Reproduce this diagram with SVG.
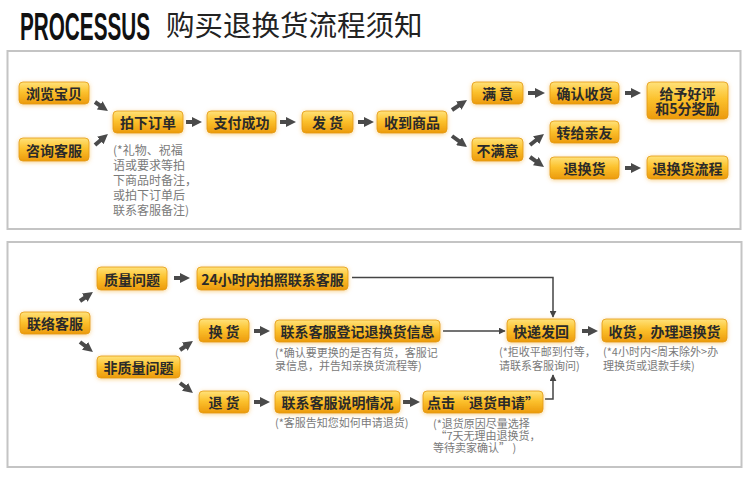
<svg xmlns="http://www.w3.org/2000/svg" width="750" height="499" viewBox="0 0 750 499">
<defs>
<linearGradient id="og" x1="0" y1="0" x2="0" y2="1">
<stop offset="0" stop-color="#ffe27a"/>
<stop offset="0.45" stop-color="#fcc22e"/>
<stop offset="1" stop-color="#ec9a0c"/>
</linearGradient>
<filter id="glow" x="-20%" y="-40%" width="140%" height="180%">
<feGaussianBlur in="SourceAlpha" stdDeviation="2" result="b"/>
<feFlood flood-color="#f3b340" flood-opacity="0.6"/>
<feComposite in2="b" operator="in"/>
<feOffset dy="1"/>
<feMerge><feMergeNode/><feMergeNode in="SourceGraphic"/></feMerge>
</filter>
<marker id="thick" viewBox="0 0 10 10" refX="3" refY="5" markerWidth="10" markerHeight="10" markerUnits="userSpaceOnUse" orient="auto">
<path d="M0,0 L10,5 L0,10 z" fill="#4a4a4a"/>
</marker>
<marker id="thin" viewBox="0 0 10 10" refX="9" refY="5" markerWidth="7" markerHeight="7" markerUnits="userSpaceOnUse" orient="auto">
<path d="M0,0 L10,5 L0,10 z" fill="#444"/>
</marker>
</defs>
<style>
.panel{fill:#fff;stroke:#c4c4c4;stroke-width:2}
.box{fill:url(#og);stroke:#e39a14;stroke-width:0.8;filter:url(#glow)}
.lbl{font-family:"Noto Sans CJK SC","Liberation Sans",sans-serif;font-size:14px;font-weight:bold;fill:#2a2a2a;text-anchor:middle;dominant-baseline:central}
.note{font-family:"Noto Sans CJK SC","Liberation Sans",sans-serif;font-size:11px;fill:#7a7a7a}
.note12{font-family:"Noto Sans CJK SC","Liberation Sans",sans-serif;font-size:12px;fill:#7a7a7a}
.ta{stroke:#4a4a4a;stroke-width:4;fill:none;marker-end:url(#thick)}
.tn{stroke:#444;stroke-width:1.5;fill:none;marker-end:url(#thin)}
</style>
<rect width="750" height="499" fill="#fff"/>
<text transform="translate(20,40) scale(0.545,1)" font-family="Liberation Sans, sans-serif" font-weight="bold" font-size="38" fill="#111">PROCESSUS</text>
<text x="166" y="36" font-family="Noto Sans CJK SC, sans-serif" font-size="28.5" fill="#222">购买退换货流程须知</text>

<rect class="panel" x="7.5" y="51" width="733" height="178"/>
<rect class="panel" x="7.5" y="242" width="734" height="225"/>

<g id="connectors">
<line class="ta" x1="95" y1="102" x2="102.2" y2="107"/>
<line class="ta" x1="95" y1="145" x2="102.6" y2="138.5"/>
<line class="ta" x1="186" y1="122" x2="195" y2="122"/>
<line class="ta" x1="280" y1="122" x2="289" y2="122"/>
<line class="ta" x1="358" y1="122" x2="367" y2="122"/>
<line class="ta" x1="452" y1="110" x2="461.2" y2="103.9"/>
<line class="ta" x1="452" y1="136" x2="461.4" y2="142.9"/>
<line class="ta" x1="528" y1="93" x2="538" y2="93"/>
<line class="ta" x1="625" y1="93" x2="634" y2="93"/>
<line class="ta" x1="530" y1="145" x2="538.5" y2="138.3"/>
<line class="ta" x1="530" y1="157" x2="538.3" y2="162.9"/>
<line class="ta" x1="625" y1="168" x2="634" y2="168"/>

<line class="ta" x1="80" y1="301" x2="87.2" y2="296"/>
<line class="ta" x1="80" y1="342" x2="87.4" y2="347.7"/>
<line class="ta" x1="174" y1="278" x2="183" y2="278"/>
<line class="ta" x1="180" y1="350" x2="187.2" y2="345"/>
<line class="ta" x1="180" y1="383" x2="187.4" y2="388.7"/>
<line class="ta" x1="254" y1="331" x2="263" y2="331"/>
<line class="ta" x1="254" y1="402" x2="263" y2="402"/>
<line class="ta" x1="403" y1="402" x2="413" y2="402"/>
<line class="ta" x1="582" y1="331" x2="591" y2="331"/>

<path class="tn" d="M352,277.5 H553 V317"/>
<path class="tn" d="M443,331 H505"/>
<path class="tn" d="M545,399 H553 V375"/>
</g>

<g id="n-browse"><rect class="box" x="19" y="82" width="70" height="22" rx="4"/><text class="lbl" x="54" y="93">浏览宝贝</text></g>
<g id="n-consult"><rect class="box" x="19" y="138" width="70" height="23" rx="4"/><text class="lbl" x="54" y="149.5">咨询客服</text></g>
<g id="n-order"><rect class="box" x="113" y="111" width="70" height="22" rx="4"/><text class="lbl" x="148" y="122">拍下订单</text></g>
<g id="n-pay"><rect class="box" x="207" y="111" width="69" height="22" rx="4"/><text class="lbl" x="241.5" y="122">支付成功</text></g>
<g id="n-ship"><rect class="box" x="302" y="111" width="51" height="22" rx="4"/><text class="lbl" x="327.5" y="122">发 货</text></g>
<g id="n-receive"><rect class="box" x="377" y="111" width="70" height="22" rx="4"/><text class="lbl" x="412" y="122">收到商品</text></g>
<g id="n-satisfied"><rect class="box" x="472" y="82" width="51" height="22" rx="4"/><text class="lbl" x="497.5" y="93">满 意</text></g>
<g id="n-unsatisfied"><rect class="box" x="472" y="138" width="51" height="23" rx="4"/><text class="lbl" x="497.5" y="149.5">不满意</text></g>
<g id="n-confirm"><rect class="box" x="550" y="82" width="69" height="22" rx="4"/><text class="lbl" x="584.5" y="93">确认收货</text></g>
<g id="n-gift"><rect class="box" x="550" y="121" width="69" height="22" rx="4"/><text class="lbl" x="584.5" y="132">转给亲友</text></g>
<g id="n-return"><rect class="box" x="550" y="157" width="69" height="22" rx="4"/><text class="lbl" x="584.5" y="168">退换货</text></g>
<g id="n-praise"><rect class="box" x="647" y="82" width="81" height="37" rx="4"/><text class="lbl" x="687.5" y="93">给予好评<tspan x="687.5" dy="15">和5分奖励</tspan></text></g>
<g id="n-returnflow"><rect class="box" x="647" y="156" width="81" height="23" rx="4"/><text class="lbl" x="687.5" y="167.5">退换货流程</text></g>
<g id="note-order">
<text class="note12" x="113" y="155">(*礼物、祝福<tspan x="113" dy="15">语或要求等拍</tspan><tspan x="113" dy="15">下商品时备注，</tspan><tspan x="113" dy="15">或拍下订单后</tspan><tspan x="113" dy="15">联系客服备注)</tspan></text>
</g>

<g id="n-contact"><rect class="box" x="20" y="312" width="70" height="22" rx="4"/><text class="lbl" x="55" y="323">联络客服</text></g>
<g id="n-quality"><rect class="box" x="97" y="267" width="70" height="23" rx="4"/><text class="lbl" x="132" y="278.5">质量问题</text></g>
<g id="n-nonquality"><rect class="box" x="97" y="356" width="83" height="22" rx="4"/><text class="lbl" x="138.5" y="367">非质量问题</text></g>
<g id="n-photo"><rect class="box" x="197" y="267" width="151" height="23" rx="4"/><text class="lbl" x="272.5" y="278.5">24小时内拍照联系客服</text></g>
<g id="n-exchange"><rect class="box" x="199" y="319" width="50" height="23" rx="4"/><text class="lbl" x="224" y="330.5">换 货</text></g>
<g id="n-refund"><rect class="box" x="199" y="391" width="50" height="22" rx="4"/><text class="lbl" x="224" y="402">退 货</text></g>
<g id="n-register"><rect class="box" x="275" y="320" width="165" height="22" rx="4"/><text class="lbl" x="357.5" y="331">联系客服登记退换货信息</text></g>
<g id="n-explain"><rect class="box" x="275" y="391" width="125" height="22" rx="4"/><text class="lbl" x="337.5" y="402">联系客服说明情况</text></g>
<g id="n-apply"><rect class="box" x="423" y="391" width="120" height="22" rx="4"/><text class="lbl" x="483" y="402">点击“退货申请”</text></g>
<g id="n-express"><rect class="box" x="507" y="319" width="68" height="23" rx="4"/><text class="lbl" x="541" y="330.5">快递发回</text></g>
<g id="n-handle"><rect class="box" x="602" y="319" width="125" height="23" rx="4"/><text class="lbl" x="664.5" y="330.5">收货，办理退换货</text></g>

<g id="notes-bottom">
<text class="note" x="275" y="357">(*确认要更换的是否有货，客服记<tspan x="275" dy="12.5">录信息，并告知亲换货流程等)</tspan></text>
<text class="note" x="275" y="427">(*客服告知您如何申请退货)</text>
<text class="note" x="433" y="428">(*退货原因尽量选择<tspan x="433" dy="12"> “7天无理由退换货，</tspan><tspan x="433" dy="12">等待卖家确认” )</tspan></text>
<text class="note" x="499" y="356">(*拒收平邮到付等，<tspan x="499" dy="14">请联系客服询问)</tspan></text>
<text class="note" x="603" y="356">(*4小时内&lt;周末除外&gt;办<tspan x="603" dy="14">理换货或退款手续)</tspan></text>
</g>
</svg>
